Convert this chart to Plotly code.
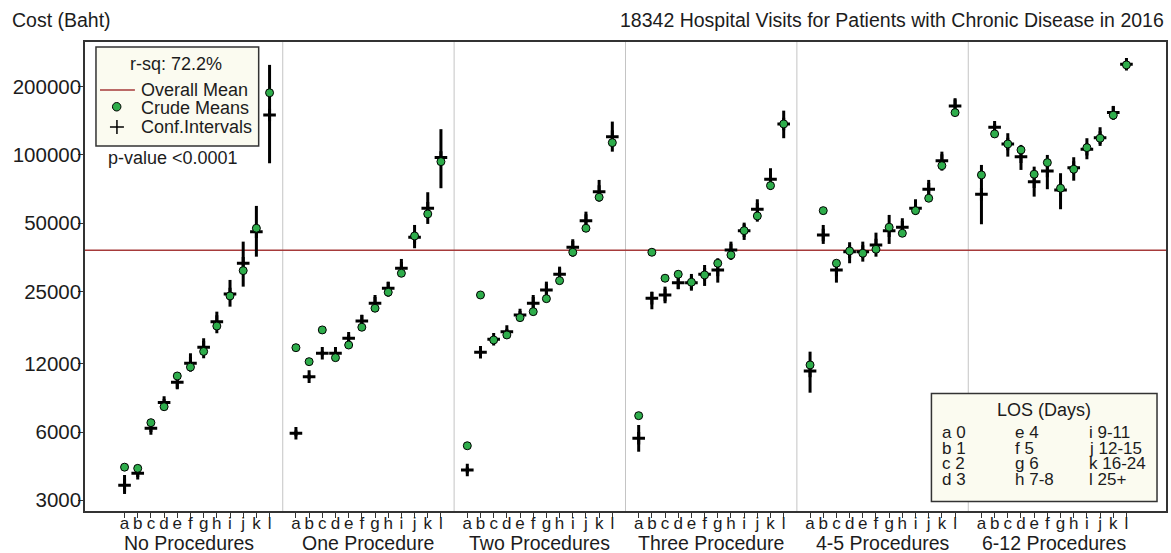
import plotly.graph_objects as go

# ---------------- data ----------------
groups = ["No Procedures", "One Procedure", "Two Procedures",
          "Three Procedure", "4-5 Procedures", "6-12 Procedures"]
los_codes = ["a", "b", "c", "d", "e", "f", "g", "h", "i", "j", "k", "l"]
los_days = ["0", "1", "2", "3", "4", "5", "6", "7-8", "9-11", "12-15", "16-24", "25+"]
y_tick_vals = [3000, 6000, 12000, 25000, 50000, 100000, 200000]
y_tick_text = ["3000", "6000", "12000", "25000", "50000", "100000", "200000"]
overall_mean = 38000

crude_none = [4200, 4150, 6600, 7760, 10600, 11600, 13600, 17600, 23900, 30900, 47500, 188000]
est_none = [3500, 3950, 6230, 8090, 9950, 12060, 14190, 18400, 24380, 33300, 45900, 150000]
lo_none = [3200, 3800, 6000, 7800, 9260, 11080, 12690, 16360, 21430, 26260, 35600, 91900]
hi_none = [3880, 4100, 6450, 8400, 10900, 13350, 15550, 20370, 28110, 41470, 59600, 249500]

crude_one = [14130, 12260, 16920, 12770, 14520, 17390, 21090, 24810, 30080, 43930, 54950, 93430]
est_one = [5930, 10530, 13350, 13350, 15550, 18540, 22180, 25840, 31650, 43360, 58210, 97320]
lo_one = [5750, 10300, 13050, 13050, 15000, 16920, 20370, 23720, 29060, 38780, 49630, 71330]
hi_one = [6100, 10750, 13650, 13650, 16100, 19700, 24130, 27630, 34780, 49120, 68480, 129900]

crude_two = [5220, 24130, 15280, 16080, 19170, 20370, 23240, 27910, 37230, 47500, 65100, 113300]
est_two = [4080, 13490, 15390, 16630, 19700, 22180, 25390, 29780, 39170, 51320, 68900, 120400]
lo_two = [3950, 13100, 15000, 16200, 18900, 20370, 23340, 27180, 35600, 46700, 62260, 103400]
hi_two = [4200, 13900, 15800, 17100, 20500, 24130, 27630, 32170, 42490, 56230, 77600, 140300]

crude_three = [7085, 37230, 28600, 29780, 27460, 29570, 33300, 36220, 46370, 53830, 73240, 137000]
est_three = [5630, 23340, 24130, 27350, 27350, 29780, 31110, 38120, 46370, 57620, 78150, 137000]
lo_three = [4914, 20870, 22180, 25570, 25210, 26450, 27350, 34430, 42190, 50800, 70100, 118500]
hi_three = [6447, 24960, 26260, 30080, 29870, 32720, 35030, 41470, 50290, 63760, 87380, 156800]

crude_four5 = [11860, 56810, 33300, 37730, 36860, 38390, 48000, 45150, 56810, 64430, 89700, 153700]
est_four5 = [11150, 44370, 31110, 37460, 37460, 40100, 46370, 48000, 58210, 70600, 94390, 164500]
lo_four5 = [8947, 40520, 27350, 33300, 33850, 35600, 40520, 43610, 54390, 64430, 85270, 153000]
hi_four5 = [13570, 49120, 34430, 41210, 41470, 45430, 54390, 52600, 63760, 77600, 103400, 177900]

crude_six12 = [81640, 123800, 111800, 105200, 82220, 92500, 71330, 86500, 107700, 118500, 149700, 249500]
est_six12 = [67090, 132500, 111800, 98300, 76260, 85000, 70100, 87900, 106000, 119200, 153700, 251200]
lo_six12 = [49470, 128000, 98300, 85880, 65500, 70600, 57620, 77000, 95700, 109600, 142700, 243000]
hi_six12 = [90360, 137000, 124700, 110700, 88800, 100000, 83070, 97700, 118500, 132500, 164500, 259000]

crude_all = [crude_none, crude_one, crude_two, crude_three, crude_four5, crude_six12]
est_all = [est_none, est_one, est_two, est_three, est_four5, est_six12]
lo_all = [lo_none, lo_one, lo_two, lo_three, lo_four5, lo_six12]
hi_all = [hi_none, hi_one, hi_two, hi_three, hi_four5, hi_six12]

# ---------------- layout helpers ----------------
W, H = 1171, 553
ML, MR, MT, MB = 85, 3, 42, 42
PW, PH = W - ML - MR, H - MT - MB
FONT = "Liberation Sans, Arial, sans-serif"
TXT = "#1c1c1c"
STEP = 13  # 12 categories + 1 gap per group


def px(x):
    return (x - ML) / PW


def py(y):
    return (H - MB - y) / PH


fig = go.Figure()

tick_pos, tick_txt = [], []
for g in range(len(groups)):
    xs = [i + STEP * g for i in range(len(los_codes))]
    tick_pos += xs
    tick_txt += los_codes
    est, lo, hi = est_all[g], lo_all[g], hi_all[g]
    fig.add_trace(go.Scatter(
        x=xs, y=est, mode="markers", showlegend=False, hoverinfo="skip",
        marker=dict(symbol="cross-thin", size=9, color="black",
                    line=dict(width=3, color="black")),
        error_y=dict(type="data", symmetric=False,
                     array=[h - e for h, e in zip(hi, est)],
                     arrayminus=[e - l for e, l in zip(est, lo)],
                     thickness=3, width=0, color="black"),
    ))
for g in range(len(groups)):
    xs = [i + STEP * g for i in range(len(los_codes))]
    fig.add_trace(go.Scatter(
        x=xs, y=crude_all[g], mode="markers", showlegend=False,
        marker=dict(symbol="circle", size=8, color="#2EAD4B",
                    line=dict(width=1, color="black")),
    ))

shapes = []
# panel dividers
for g in range(1, len(groups)):
    xd = STEP * g - 1
    shapes.append(dict(type="line", xref="x", yref="paper", x0=xd, x1=xd, y0=0, y1=1,
                       line=dict(color="#c4c4c4", width=1), layer="below"))
# overall mean
shapes.append(dict(type="line", xref="paper", yref="y", x0=0, x1=1,
                   y0=overall_mean, y1=overall_mean,
                   line=dict(color="#A63A3A", width=1.5), layer="below"))
# legend box 1
shapes.append(dict(type="rect", xref="paper", yref="paper",
                   x0=px(96), x1=px(259), y0=py(146), y1=py(47),
                   fillcolor="#FBFBF0", line=dict(color="#333333", width=1.5)))
shapes.append(dict(type="line", xref="paper", yref="paper",
                   x0=px(100), x1=px(135), y0=py(90), y1=py(90),
                   line=dict(color="#A63A3A", width=1.5)))
shapes.append(dict(type="circle", xref="paper", yref="paper",
                   x0=px(112.5), x1=px(121), y0=py(111), y1=py(102.5),
                   fillcolor="#2EAD4B", line=dict(color="black", width=1)))
shapes.append(dict(type="line", xref="paper", yref="paper",
                   x0=px(110), x1=px(124), y0=py(127), y1=py(127),
                   line=dict(color="black", width=1.5)))
shapes.append(dict(type="line", xref="paper", yref="paper",
                   x0=px(117), x1=px(117), y0=py(120), y1=py(134),
                   line=dict(color="black", width=1.5)))
# LOS legend box
shapes.append(dict(type="rect", xref="paper", yref="paper",
                   x0=px(933), x1=px(1159), y0=py(501.5), y1=py(393.5),
                   fillcolor="#FBFBF0", line=dict(color="#333333", width=1.5)))

ann = []


def text(x, y, s, size=18, xanchor="left"):
    ann.append(dict(xref="paper", yref="paper", x=px(x), y=py(y), text=s,
                    showarrow=False, xanchor=xanchor, yanchor="middle",
                    font=dict(family=FONT, size=size, color=TXT)))


text(10, 20, "Cost (Baht)", 19.5)
text(1168, 20, "18342 Hospital Visits for Patients with Chronic Disease in 2016", 19.5, "right")
text(176, 64, "r-sq: 72.2%", 18, "center")
text(139, 90, "Overall Mean", 18)
text(139, 108, "Crude Means", 18)
text(139, 127, "Conf.Intervals", 18)
text(106, 158, "p-value <0.0001", 18)
text(1046, 410, "LOS (Days)", 18, "center")
col_x = [942, 1015, 1089]
row_y = [432.5, 448, 463.5, 479]
for k, (c, d) in enumerate(zip(los_codes, los_days)):
    text(col_x[k // 4], row_y[k % 4], c + " " + d, 17)

# group labels
for g, name in enumerate(groups):
    ann.append(dict(xref="x", yref="paper", x=5.5 + STEP * g - (0.6 if g == 0 else 0), y=0,
                    yshift=-32, text=name, showarrow=False,
                    xanchor="center", yanchor="middle",
                    font=dict(family=FONT, size=19.5, color=TXT)))

fig.update_layout(
    width=W, height=H,
    margin=dict(l=ML, r=MR, t=MT, b=MB),
    paper_bgcolor="white", plot_bgcolor="white",
    font=dict(family=FONT, color=TXT),
    shapes=shapes, annotations=ann,
    showlegend=False,
)
fig.update_xaxes(range=[-3, 79], tickmode="array", tickvals=tick_pos, ticktext=tick_txt,
                 ticks="outside", ticklen=5, tickwidth=1, tickcolor="#333",
                 ticklabelstandoff=-9,
                 tickfont=dict(family=FONT, size=17, color=TXT),
                 showgrid=False, zeroline=False, showline=True, linecolor="#333",
                 linewidth=1.5, mirror=True)
fig.update_yaxes(type="log", range=[3.430, 5.498], tickmode="array",
                 tickvals=y_tick_vals, ticktext=y_tick_text,
                 ticks="outside", ticklen=5, tickwidth=1, tickcolor="#333",
                 ticklabelstandoff=-7,
                 tickfont=dict(family=FONT, size=20.5, color=TXT),
                 showgrid=False, zeroline=False, showline=True, linecolor="#333",
                 linewidth=1.5, mirror=True)

fig.write_html("out.html", config={"displayModeBar": False},
               post_script="document.body.style.margin='0px';document.body.style.padding='0px';")
